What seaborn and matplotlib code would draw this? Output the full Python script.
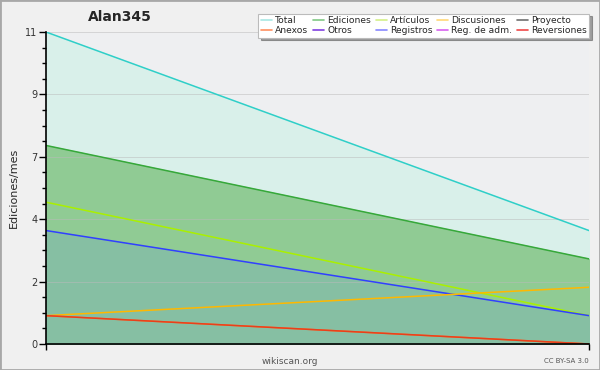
import numpy as np
import pandas as pd
import matplotlib
matplotlib.use("Agg")
import matplotlib.pyplot as plt
import seaborn as sns
from matplotlib.lines import Line2D
from matplotlib.patches import Rectangle

# two months of activity
months = [0, 1]
total = [11, 4]
ediciones = [7, 3]
articulos = [5, 1]
registros = [4, 1]
discusiones = [1, 2]
anexos = [1, 0]
reversiones = [1, 0]

series = {
    "Total": total,
    "Ediciones": ediciones,
    "Artículos": articulos,
    "Registros": registros,
    "Discusiones": discusiones,
    "Anexos": anexos,
    "Reversiones": reversiones,
}
line_colors = {
    "Total": "#2fcfc8",
    "Ediciones": "#36a83a",
    "Artículos": "#aaf000",
    "Registros": "#3040ff",
    "Discusiones": "#ffb800",
    "Anexos": "#ff7a30",
    "Reversiones": "#e8401c",
}

legend_labels = ["Total", "Ediciones", "Artículos", "Discusiones", "Proyecto",
                 "Anexos", "Otros", "Registros", "Reg. de adm.", "Reversiones"]
legend_colors = ["#a8e8e4", "#80c884", "#d4f088", "#ffd878", "#707070",
                 "#ff9060", "#8040e0", "#8888ff", "#d860f0", "#f04848"]

df = pd.DataFrame(
    [(m, name, v) for name, vals in series.items() for m, v in zip(months, vals)],
    columns=["month", "serie", "value"],
)

sns.set_style("white")
plt.rcParams["font.family"] = ["DejaVu Sans"]

fig = plt.figure(figsize=(6, 3.7), dpi=100, facecolor="#f0f0f0")
ax = fig.add_axes([46 / 600, 26 / 370, 543 / 600, 312 / 370])
ax.set_facecolor("#eeeff1")

# filled areas
ax.fill_between(months, total, color="#d9f0ea", zorder=1)
ax.fill_between(months, ediciones, color="#90cb94", zorder=1)
ax.fill_between(months, registros, color="#86bfa3", zorder=1)

sns.lineplot(data=df, x="month", y="value", hue="serie", palette=line_colors,
             hue_order=list(series.keys()), linewidth=1.1, legend=False, ax=ax, zorder=3)

ax.set_xlim(0, 1)
ax.set_ylim(0, 11)
yt = np.linspace(0, 11, 6)
ax.set_yticks(yt)
ax.set_yticklabels([str(int(round(v))) for v in yt], fontsize=7, color="#333333")
ax.set_yticks(np.linspace(0, 11, 21), minor=True)
ax.set_xticks([0, 1])
ax.set_xticklabels([])
ax.tick_params(axis="y", which="major", direction="out", length=5, width=1, color="black", left=True, pad=1)
ax.tick_params(axis="y", which="minor", direction="out", length=3, width=1, color="black", left=True)
ax.tick_params(axis="x", direction="out", length=4, width=1, color="black", bottom=True)
ax.yaxis.grid(True, which="major", color="#bbbbbb", linewidth=0.6, alpha=0.6, zorder=2)
ax.set_axisbelow(False)
for s in ["top", "right"]:
    ax.spines[s].set_visible(False)
for s in ["left", "bottom"]:
    ax.spines[s].set_color("black")
    ax.spines[s].set_linewidth(1.2)
    ax.spines[s].set_zorder(5)

ax.set_xlabel("")
ax.set_ylabel("Ediciones/mes", fontsize=8)
ax.yaxis.set_label_coords(-0.05, 0.5)

fig.text(120 / 600, 1 - 17 / 370, "Alan345", fontsize=10, fontweight="bold", ha="center", va="center")
fig.text(290 / 600, 1 - 361 / 370, "wikiscan.org", fontsize=6.5, color="#555555", ha="center", va="center")
fig.text(589 / 600, 1 - 361 / 370, "CC BY-SA 3.0", fontsize=5, color="#555555", ha="right", va="center")

# legend, row-wise order -> column-major for ncol=5
handles = [Line2D([0], [0], color=c, lw=1.2) for c in legend_colors]
order = [0, 5, 1, 6, 2, 7, 3, 8, 4, 9]
leg = fig.legend([handles[i] for i in order], [legend_labels[i] for i in order],
                 ncol=5, loc="upper right", bbox_to_anchor=(594 / 600, 1 - 9 / 370),
                 fontsize=6.6, frameon=True, fancybox=False, shadow=True,
                 handlelength=1.2, handletextpad=0.35, columnspacing=0.5,
                 labelspacing=0.05, borderpad=0.3)
leg.get_frame().set_edgecolor("#bbbbbb")
leg.get_frame().set_facecolor("white")
leg.get_frame().set_linewidth(0.8)

fig.patches.append(Rectangle((0, 0), 1, 1, transform=fig.transFigure, fill=False,
                             edgecolor="#a8a8a8", linewidth=2))

fig.savefig("out.png", dpi=100, facecolor=fig.get_facecolor())
